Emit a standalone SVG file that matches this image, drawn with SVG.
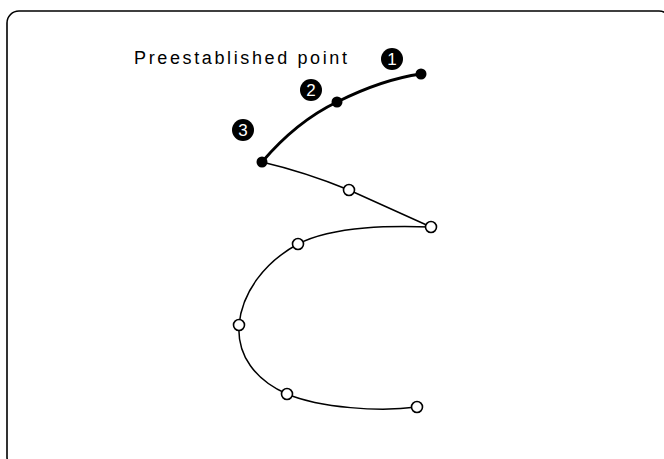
<svg xmlns="http://www.w3.org/2000/svg" width="664" height="459" viewBox="0 0 664 459">
  <style>
    .frame { fill: none; stroke: #000; stroke-width: 1.6; }
    .thick { fill: none; stroke: #000; stroke-width: 3; stroke-linecap: round; }
    .thin { fill: none; stroke: #000; stroke-width: 1.5; }
    .open { fill: #fff; stroke: #000; stroke-width: 1.6; }
    .solid { fill: #000; }
    .badge { fill: #000; }
    .badge-num { fill: #fff; font-family: "Liberation Sans", Arial, sans-serif; font-size: 17px; text-anchor: middle; }
    .label { fill: #000; font-family: "Liberation Sans", Arial, sans-serif; font-size: 18px; }
  </style>

  <rect class="frame" x="7" y="11" width="664" height="458" rx="12" ry="12"/>

  <g id="connectors">
    <!-- preestablished segment -->
    <path class="thick" d="M262,162 C285,135 310,115 337,102 C365,88 392,78 421,74"/>
    <!-- remaining path -->
    <path class="thin" d="M262,162 Q305,172 349,190 L431,227"/>
    <path class="thin" d="M431,227 C395,226 335,225 298,244 C265,262 242,292 239,325 C237,355 255,380 287,394 C320,408 380,412 417,407"/>
  </g>

  <g id="label">
    <text class="label" x="134" y="64" textLength="213" lengthAdjust="spacing">Preestablished point</text>
  </g>

  <g id="point-1">
    <circle class="solid" cx="421" cy="74" r="5.5"/>
    <circle class="badge" cx="392" cy="59" r="11"/>
    <text class="badge-num" x="392" y="65">1</text>
  </g>
  <g id="point-2">
    <circle class="solid" cx="337" cy="102" r="5.5"/>
    <circle class="badge" cx="311" cy="90" r="11"/>
    <text class="badge-num" x="311" y="96">2</text>
  </g>
  <g id="point-3">
    <circle class="solid" cx="262" cy="162" r="5.5"/>
    <circle class="badge" cx="243" cy="130" r="11"/>
    <text class="badge-num" x="243" y="136">3</text>
  </g>

  <g id="point-4"><circle class="open" cx="349" cy="190" r="5.5"/></g>
  <g id="point-5"><circle class="open" cx="431" cy="227" r="5.5"/></g>
  <g id="point-6"><circle class="open" cx="298" cy="244" r="5.5"/></g>
  <g id="point-7"><circle class="open" cx="239" cy="325" r="5.5"/></g>
  <g id="point-8"><circle class="open" cx="287" cy="394" r="5.5"/></g>
  <g id="point-9"><circle class="open" cx="417" cy="407" r="5.5"/></g>
</svg>
